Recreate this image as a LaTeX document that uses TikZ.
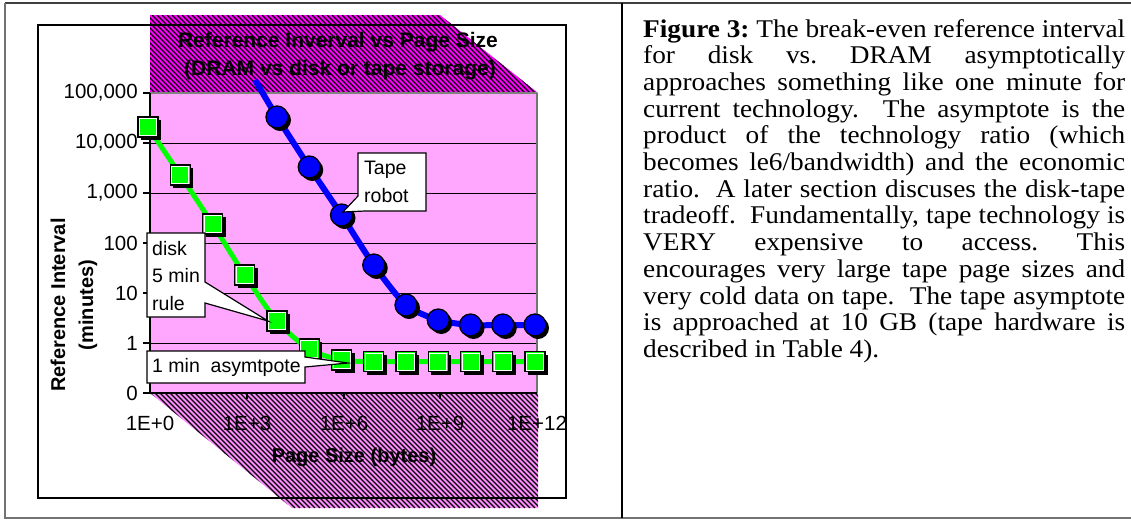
\documentclass[tikz,border=0pt]{standalone}
\usepackage{fontspec}
\setmainfont{Liberation Sans}
\newfontfamily\capfont[FakeStretch=1.07]{Liberation Serif}
\definecolor{plotpink}{HTML}{FFA6FF}
\definecolor{floorpink}{HTML}{FF8CFF}
\definecolor{bandmag}{HTML}{FF00FF}
\definecolor{sergreen}{HTML}{00FF00}
\definecolor{serblue}{HTML}{0000FF}
\newcommand\capsetup{\capfont\fontsize{25.5}{26.7}\selectfont\frenchspacing\lineskiplimit=-100pt\relax}
\begin{document}
\begin{tikzpicture}[x=1pt,y=-1pt,
  ticklab/.style={font=\fontsize{20.5}{22}\selectfont, inner sep=0pt},
  axtitle/.style={font=\fontsize{20}{24}\selectfont\bfseries, inner sep=0pt},
  bandtitle/.style={font=\fontsize{21}{24}\selectfont\bfseries, inner sep=0pt, text=black},
  callout/.style={fill=white, draw=black, line width=1.2pt, line join=miter},
  calltext/.style={font=\fontsize{19.5}{27.5}\selectfont, inner sep=0pt, align=left},
  hatchline/.style={black, line width=1.1pt},
  grid/.style={black, line width=0.9pt},
  axis/.style={black, line width=1.5pt}]
\useasboundingbox (0,0) rectangle (1131,523);
\fill[white] (0,0) rectangle (1131,523);
% outer table frame
\draw[line width=1.5pt, black!75] (5,3) -- (1131,3);
\draw[line width=1.5pt, black!55] (5,3) -- (5,518) -- (1131,518);
\draw[line width=1.6pt] (622,3) -- (622,518);
% chart area
\fill[white] (38,25) rectangle (566,498);
% top hatched band
\begin{scope}
  \clip (150,15) -- (440,15) -- (538,93) -- (150,93) -- cycle;
  \fill[bandmag] (140,10) rectangle (545,95);
  \foreach \k in {67,72,...,546} \draw[hatchline] (\k,15) -- ++(78,78);
\end{scope}
% floor hatched band
\begin{scope}
  \clip (150,393) -- (538,393) -- (538,508) -- (292,508) -- cycle;
  \fill[floorpink] (140,390) rectangle (545,512);
  \foreach \k in {30,35,...,546} \draw[hatchline] (\k,393) -- ++(115,115);
\end{scope}
\draw[line width=1.5pt] (38,25) rectangle (566,498);
% plot area
\fill[plotpink] (150,93) rectangle (537,393);
\foreach \yy in {143,193,243,293,343} \draw[grid] (150,\yy) -- (537,\yy);
\draw[gray, line width=1.5pt] (150,93) -- (537,93);
\draw[black!55, line width=2pt] (537,93) -- (537,393);
\draw[axis] (150,93) -- (150,393) -- (537,393);
\foreach \yy in {93,143,193,243,293,343,393} \draw[axis] (143,\yy) -- (150,\yy);
\foreach \xx in {247,344,440} \draw[axis] (\xx,393) -- (\xx,399);
% y tick labels
\node[ticklab, anchor=east] (y5) at (138,93) {100,000};
\node[ticklab, anchor=east] (y4) at (138,143) {10,000};
\node[ticklab, anchor=east] (y3) at (138,193) {1,000};
\node[ticklab, anchor=east] (y2) at (138,243) {100};
\node[ticklab, anchor=east] (y1) at (138,293) {10};
\node[ticklab, anchor=east] (y0) at (138,343) {1};
\node[ticklab, anchor=east] (ym) at (138,393) {0};
% x tick labels
\node[ticklab] (x0) at (150,423) {1E+0};
\node[ticklab] (x3) at (247,423) {1E+3};
\node[ticklab] (x6) at (344,423) {1E+6};
\node[ticklab] (x9) at (440,423) {1E+9};
\node[ticklab] (x12) at (537,423) {1E+12};
% titles
\node[bandtitle] (t1) at (338,42) {Reference Inverval vs Page Size};
\node[bandtitle] (t2) at (340,70) {(DRAM vs disk or tape storage)};
\node[axtitle] (xt) at (354,457) {Page Size (bytes)};
\node[axtitle, rotate=90] (yt1) at (58,305) {Reference Interval};
\node[axtitle, rotate=90] (yt2) at (88,305) {(minutes)};
% green series (disk)
\draw[sergreen, line width=5pt] plot[smooth, tension=0.5] coordinates {(148,127) (180.25,175) (212.5,224) (244.75,275) (277,321) (309.25,349) (341.5,360) (373.75,361.5) (406,361.5) (438.25,361.5) (470.5,361.5) (502.75,361.5) (535,361.5)};
\foreach \xx/\yy in {148/127,180.25/175,212.5/224,244.75/275,277/321,309.25/349,341.5/360,373.75/361.5,406/361.5,438.25/361.5,470.5/361.5,502.75/361.5,535/361.5} {
  \fill[black] (\xx-7,\yy-7) rectangle (\xx+13,\yy+13);
  \filldraw[fill=sergreen, draw=black, line width=1.2pt] (\xx-10,\yy-10) rectangle (\xx+10,\yy+10);
  \draw[white, line width=0.8pt] (\xx-8.5,\yy-8.5) rectangle (\xx+8.5,\yy+8.5);
}
% blue series (tape)
\draw[serblue, line width=6pt] plot[smooth, tension=0.45] coordinates {(255,80) (277,117) (309.25,167) (341.5,215) (373.75,265) (406,305) (438.25,320) (470.5,325) (502.75,325) (535,325)};
\foreach \xx/\yy in {277/117,309.25/167,341.5/215,373.75/265,406/305,438.25/320,470.5/325,502.75/325,535/325} {
  \fill[black] (\xx+3,\yy+3) circle[radius=11];
  \filldraw[fill=serblue, draw=black, line width=1.3pt] (\xx,\yy) circle[radius=11];
}
% callouts
\draw[callout] (358,153) -- (426,153) -- (426,211) -- (365,211) -- (343,212) -- (358,196) -- cycle;
\node[calltext, anchor=west] (tape) at (364,182) {Tape\\robot};
\draw[callout] (147,233) -- (205,233) -- (205,282) -- (268,321) -- (205,303) -- (205,317) -- (147,317) -- cycle;
\node[calltext, anchor=west] (disk) at (152,276) {disk\\5 min\\rule};
\draw[callout] (147,351) -- (305,351) -- (305,357) -- (348,363) -- (305,367) -- (305,383) -- (147,383) -- cycle;
\node[calltext, anchor=west] (asym) at (152,367) {1 min\ \ asymtpote};
% caption
\node[anchor=base west, inner sep=0pt, text width=482pt, align=justify,
      font=\capsetup] (cap) at (643,37)
{\textbf{Figure 3:} The break-even reference interval\linebreak
for disk vs. DRAM asymptotically\linebreak
approaches something like one minute for\linebreak
current technology.\ \ The asymptote is the\linebreak
product of the technology ratio (which\linebreak
becomes le6/bandwidth) and the economic\linebreak
ratio.\ \ A later section discuses the disk-tape\linebreak
tradeoff.\ \ Fundamentally, tape technology is\linebreak
VERY expensive to access. This\linebreak
encourages very large tape page sizes and\linebreak
very cold data on tape.\ \ The tape asymptote\linebreak
is approached at 10 GB (tape hardware is\linebreak
described in Table 4).};
\end{tikzpicture}
\end{document}
